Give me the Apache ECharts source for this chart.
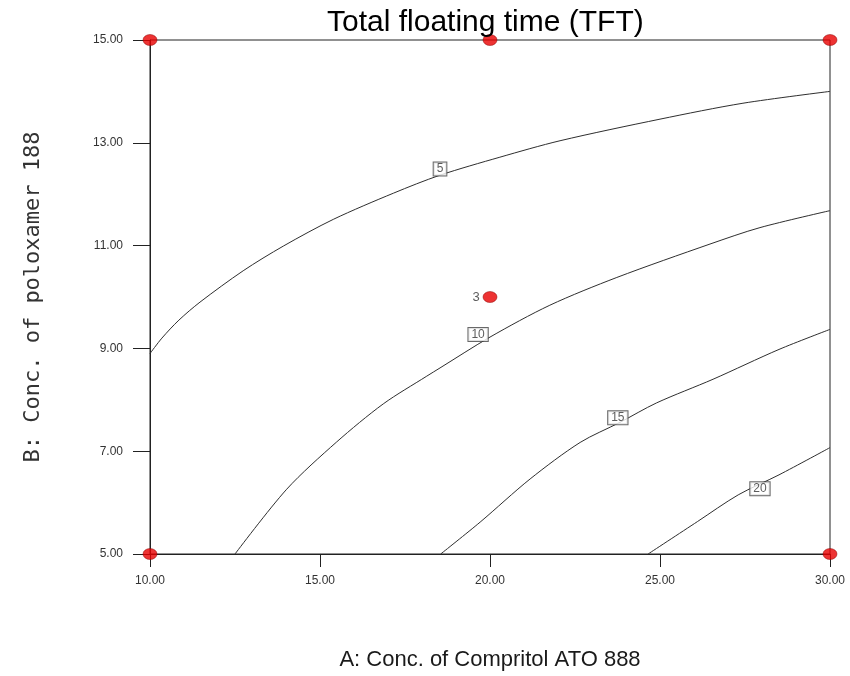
<!DOCTYPE html>
<html>
<head>
<meta charset="utf-8">
<script src="https://cdn.jsdelivr.net/npm/echarts@6/dist/echarts.min.js"></script>
<style>
  html, body { margin: 0; padding: 0; background: #fff; }
  #chart { width: 850px; height: 676px; }
</style>
</head>
<body>
<div id="chart"></div>
<script>
// Contour lines of total floating time over A (Compritol ATO 888) and B (poloxamer 188)
const contour5  = [[10, 8.9], [10.35, 9.2], [10.85, 9.55], [11.47, 9.9], [12.74, 10.51], [13.92, 10.99], [15.39, 11.51], [17.16, 12.02], [18.53, 12.37], [20.29, 12.72], [22.06, 13.04], [25, 13.46], [27.44, 13.77], [30, 14.0]];
const contour10 = [[12.5, 5], [14.02, 6.26], [15.49, 7.18], [16.86, 7.92], [18.14, 8.46], [18.53, 8.62], [20.0, 9.22], [21.76, 9.84], [23.73, 10.38], [26.47, 11.03], [27.94, 11.35], [30, 11.68]];
const contour15 = [[18.55, 5], [19.71, 5.62], [21.18, 6.46], [22.65, 7.17], [23.82, 7.56], [24.9, 7.94], [26.56, 8.4], [28.5, 8.98], [30, 9.37]];
const contour20 = [[24.65, 5], [26.1, 5.63], [27.3, 6.15], [28.5, 6.54], [30, 7.07]];

// Contour label anchors: [A, B, level]
const contourLabels = [[18.53, 12.49, '5'], [19.65, 9.27, '10'], [23.76, 7.65, '15'], [27.94, 6.27, '20']];

// Design points; the centre point carries a replicate count
const designPoints = [[10, 5], [10, 15], [20, 15], [30, 15], [30, 5], [20, 10]];
const centreReplicates = '3';

const xTicks = { min: 10, max: 30, step: 5 };
const yTicks = { min: 5, max: 15, step: 2 };

const chart = echarts.init(document.getElementById('chart'));

const lineStyle = { color: '#2e2e2e', width: 1 };
function contourSeries(data) {
  return {
    type: 'line', data: data, smooth: 0.3, symbol: 'none',
    lineStyle: lineStyle, silent: true, z: 2
  };
}

chart.setOption({
  animation: false,
  backgroundColor: '#fff',
  title: {
    text: 'Total floating time (TFT)',
    left: 322, top: 3,
    textStyle: { fontFamily: 'Liberation Sans, Arial, sans-serif', fontSize: 30, fontWeight: 'normal', color: '#000' }
  },
  grid: {
    left: 150, right: 20, top: 40, bottom: 116,
    show: true, borderColor: '#222', borderWidth: 1, backgroundColor: '#fff'
  },
  xAxis: {
    type: 'value', min: xTicks.min, max: xTicks.max, interval: xTicks.step,
    name: 'A: Conc. of Compritol ATO 888', nameLocation: 'middle', nameGap: 95,
    nameTextStyle: { fontFamily: 'Liberation Sans, Arial, sans-serif', fontSize: 22, color: '#1a1a1a' },
    axisLine: { lineStyle: { color: '#222', width: 1 } },
    axisTick: { show: true, length: 13, lineStyle: { color: '#222' } },
    axisLabel: { margin: 21, fontFamily: 'Liberation Sans, Arial, sans-serif', fontSize: 12, color: '#333',
      formatter: v => v.toFixed(2) },
    splitLine: { show: false }
  },
  yAxis: {
    type: 'value', min: yTicks.min, max: yTicks.max, interval: yTicks.step,
    name: 'B: Conc. of poloxamer 188', nameLocation: 'middle', nameGap: 106, nameRotate: 90,
    nameTextStyle: { fontFamily: 'DejaVu Sans Mono, monospace', fontSize: 22, color: '#333' },
    axisLine: { lineStyle: { color: '#222', width: 1 } },
    axisTick: { show: true, length: 17, lineStyle: { color: '#222' } },
    axisLabel: { margin: 27, fontFamily: 'Liberation Sans, Arial, sans-serif', fontSize: 12, color: '#333',
      formatter: v => v.toFixed(2) },
    splitLine: { show: false }
  },
  series: [
    contourSeries(contour5),
    contourSeries(contour10),
    contourSeries(contour15),
    contourSeries(contour20),
    {
      type: 'scatter', silent: true, z: 4,
      data: contourLabels.map(d => ({ value: [d[0], d[1]], name: d[2] })),
      symbolSize: 0,
      label: {
        show: true, position: 'inside', formatter: p => p.name,
        fontFamily: 'Liberation Sans, Arial, sans-serif', fontSize: 12, color: '#333',
        backgroundColor: '#fff', borderColor: '#444', borderWidth: 1, padding: [1, 3, 0, 3]
      }
    },
    {
      type: 'scatter', silent: true, z: 5,
      data: designPoints,
      symbol: 'circle', symbolSize: [14, 11],
      itemStyle: { color: '#e80000', borderColor: '#8a0000', borderWidth: 0.6 },
      label: {
        show: true, position: 'left', distance: 3,
        formatter: p => (p.value[0] === 20 && p.value[1] === 10) ? centreReplicates : '',
        fontFamily: 'Liberation Sans, Arial, sans-serif', fontSize: 13, color: '#333'
      }
    }
  ]
});
</script>
</body>
</html>
